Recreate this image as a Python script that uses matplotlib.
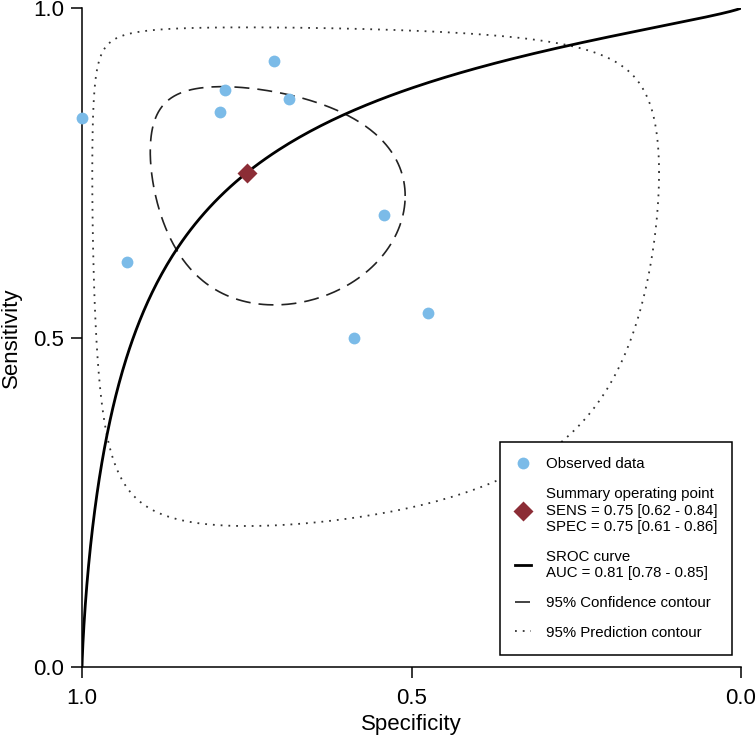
import numpy as np
import matplotlib
matplotlib.use("Agg")
import matplotlib.pyplot as plt

plt.rcParams['font.family'] = ['Liberation Sans', 'DejaVu Sans']

# observed studies (specificity, sensitivity)
study_spec = [1.000, 0.932, 0.709, 0.783, 0.791, 0.686, 0.542, 0.587, 0.475]
study_sens = [0.833, 0.615, 0.920, 0.876, 0.842, 0.862, 0.686, 0.499, 0.537]

# summary operating point
summary_spec = 0.75
summary_sens = 0.75

# SROC line in logit space: logit(sens) = v0 + slope * (logit(fpr) - u0)
sroc_slope = 0.80

# contour shapes in logit space: half widths (fpr, sens) and correlation
conf_half = [1.06, 0.90]
conf_rho = -0.20
pred_half = [3.05, 2.40]
pred_rho = 0.0

legend_labels = [
    "Observed data",
    "Summary operating point\nSENS = 0.75 [0.62 - 0.84]\nSPEC = 0.75 [0.61 - 0.86]",
    "SROC curve\nAUC = 0.81 [0.78 - 0.85]",
    "95% Confidence contour",
    "95% Prediction contour",
]


def logit(p):
    return np.log(p / (1 - p))


def expit(x):
    return 1 / (1 + np.exp(-x))


u0 = logit(1 - summary_spec)
v0 = logit(summary_sens)


def contour(half, rho):
    t = np.linspace(0, 2 * np.pi, 400)
    d = np.arccos(rho)
    u = u0 + half[0] * np.cos(t)
    v = v0 + half[1] * np.cos(t - d)
    return 1 - expit(u), expit(v)


fig = plt.figure(figsize=(7.56, 7.35), dpi=100)
ax = fig.add_axes([0.1085, 0.0925, 0.8717, 0.8966])

# SROC curve
u = np.linspace(-12, 12, 1000)
sroc, = ax.plot(1 - expit(u), expit(v0 + sroc_slope * (u - u0)),
                color='black', lw=2.0, zorder=3)

cs, cv = contour(conf_half, conf_rho)
conf, = ax.plot(cs, cv, color='#222222', lw=1.2, linestyle=(0, (9, 4.8)), zorder=2)

ps, pv = contour(pred_half, pred_rho)
pred, = ax.plot(ps, pv, color='#333333', lw=1.3, linestyle=(0, (1, 3.3)),
                dash_capstyle='butt', zorder=2)

obs, = ax.plot(study_spec, study_sens, 'o', color='#7bbbe8', ms=8.5,
               mec='none', clip_on=False, zorder=4)
summ, = ax.plot([summary_spec], [summary_sens], 'D', color='#8c2d36',
                ms=10.5, mec='none', zorder=5)

ax.set_xlim(1, 0)
ax.set_ylim(0, 1)
ax.set_xticks([1.0, 0.5, 0.0])
ax.set_xticklabels(["1.0", "0.5", "0.0"])
ax.set_yticks([0.0, 0.5, 1.0])
ax.set_yticklabels(["0.0", "0.5", "1.0"])
for s in ['top', 'right']:
    ax.spines[s].set_visible(False)
for s in ['left', 'bottom']:
    ax.spines[s].set_linewidth(1.1)
ax.tick_params(axis='both', length=8, width=1.1, labelsize=16, direction='out')
ax.tick_params(axis='x', pad=7)
ax.tick_params(axis='y', pad=5)
ax.set_xlabel("Specificity", fontsize=16, labelpad=3.5)
ax.set_ylabel("Sensitivity", fontsize=16, labelpad=8)

leg = ax.legend([obs, summ, sroc, conf, pred], legend_labels,
                loc='upper left', bbox_to_anchor=(0.634, 0.3414),
                fontsize=10.8, frameon=True, fancybox=False,
                edgecolor='black', framealpha=1, borderpad=1.0,
                handlelength=1.05, handletextpad=1.0, labelspacing=1.05,
                borderaxespad=0)
leg.get_frame().set_linewidth(1.1)
texts = leg.get_texts()
texts[1].set_linespacing(1.25)
texts[2].set_linespacing(1.2)

fig.savefig("out.png", dpi=100)
